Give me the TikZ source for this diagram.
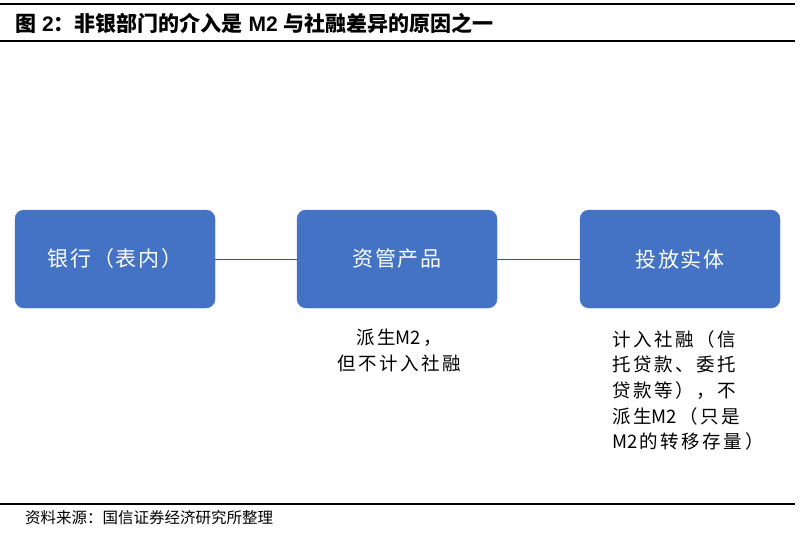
\documentclass[tikz,border=0pt]{standalone}
\usepackage{fontspec}
\setmainfont{Liberation Sans}
\newfontfamily\cjk{Noto Sans CJK SC}
\newfontfamily\cjkb{Noto Sans CJK SC Bold}
\newfontfamily\cjkwide[LetterSpace=14]{Noto Sans CJK SC}
\newfontfamily\cjkbox[LetterSpace=9]{Noto Sans CJK SC}
\newcommand{\mtwo}{{\cjk M2}}
\definecolor{boxblue}{HTML}{4472C4}
\definecolor{linkcol}{HTML}{44546A}
\begin{document}
\begin{tikzpicture}[x=1pt,y=-1pt,
  flowbox/.style={draw=boxblue, fill=boxblue, rounded corners=9pt, minimum width=200pt, minimum height=98pt, inner sep=0pt, text=white, font=\cjkbox\fontsize{21}{24}\selectfont},
  link/.style={draw=linkcol, line width=0.8pt},
  rule/.style={draw=black, line width=1.2pt},
  note/.style={font=\cjkwide\fontsize{18.5}{25.7}\selectfont, align=left, inner sep=0pt}]
\useasboundingbox (0,0) rectangle (800,535);
\fill[white] (0,0) rectangle (800,535);
\coordinate (t1a) at (0,4); \coordinate (t1b) at (795,4);
\coordinate (t2a) at (0,41); \coordinate (t2b) at (795,41);
\coordinate (b1a) at (0,504); \coordinate (b1b) at (795,504);
\draw[rule] (t1a) -- (t1b);
\draw[rule] (t2a) -- (t2b);
\draw[rule] (b1a) -- (b1b);
\node[anchor=west, inner sep=0pt, font=\bfseries\fontsize{21}{24}\selectfont] (title) at (15,23) {{\cjkb 图} 2{\cjkb ：非银部门的介入是} M2 {\cjkb 与社融差异的原因之一}};
\node[flowbox] (bank) at (115,259) {银行（表内）};
\node[flowbox] (amp) at (397,259) {资管产品};
\node[flowbox] (ent) at (680,259) {投放实体};
\draw[link] (bank) -- (amp);
\draw[link] (amp) -- (ent);
\node[note, align=center, anchor=north] (n1) at (399,329) {派生\mtwo\ \kern-0.25em，\\但不计入社融};
\node[note, anchor=north west] (n2) at (612,330) {计入社融（信\\托贷款、委托\\贷款等），不\\派生\mtwo\ \kern-0.25em（只是\\\mtwo\ \kern-0.25em 的转移存量）};
\node[anchor=west, inner sep=0pt, font=\cjk\fontsize{15.5}{18}\selectfont] (src) at (25,518) {资料来源：国信证券经济研究所整理};
\end{tikzpicture}
\end{document}
